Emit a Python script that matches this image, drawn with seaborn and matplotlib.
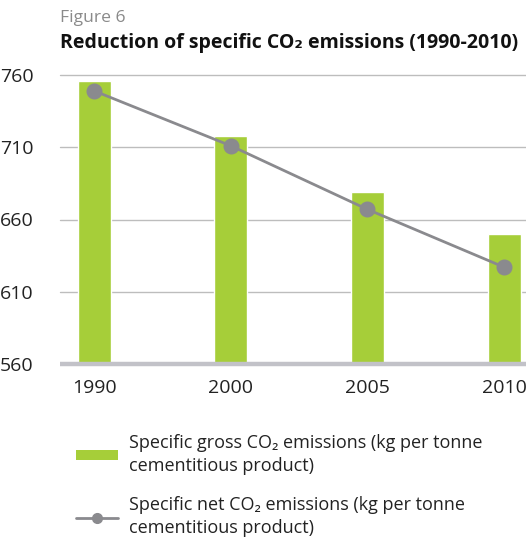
import matplotlib
matplotlib.use("Agg")
import matplotlib.pyplot as plt
import seaborn as sns
import pandas as pd
from matplotlib.patches import Patch
from matplotlib.lines import Line2D

# data
years = ["1990", "2000", "2005", "2010"]
gross_co2 = [756, 718, 679, 650]
net_co2 = [749, 711, 667, 627]
y_ticks = [560, 610, 660, 710, 760]

GREEN = "#a6ce39"
GREY = "#8a8a8e"

sns.set_theme(style="white")
plt.rcParams["font.family"] = ["Open Sans", "DejaVu Sans"]

df = pd.DataFrame({"year": years, "gross": gross_co2, "net": net_co2})

fig = plt.figure(figsize=(5.26, 5.4), dpi=100)
ax = fig.add_axes([60 / 526, 1 - 364 / 540, 466 / 526, 289 / 540])

for t in y_ticks[1:]:
    ax.axhline(t, color="#bdbdbd", lw=1.0, zorder=0, clip_on=False)

sns.barplot(data=df, x="year", y="gross", color=GREEN, width=0.24,
            saturation=1, ax=ax, zorder=2)
sns.pointplot(data=df, x="year", y="net", color=GREY, markers="o",
              markersize=10, linewidth=2, ax=ax, zorder=3)

ax.axhline(560, color="#c2c2c8", lw=3.2, zorder=4, clip_on=False,
           solid_capstyle="butt")

ax.set_ylim(560, 760)
ax.set_xlim(-0.25, 3.16)
ax.set_yticks(y_ticks)
ax.set_yticklabels([str(t) for t in y_ticks], fontsize=14, color="#222222")
ax.tick_params(axis="y", length=0, pad=19)
ax.tick_params(axis="x", length=0, pad=11, labelsize=14, labelcolor="#222222")
ax.set_xlabel("")
ax.set_ylabel("")
for s in ax.spines.values():
    s.set_visible(False)

fig.text(60 / 526, 1 - 18 / 540, "Figure 6", fontsize=12.6, color="#8a8a8a",
         va="center", ha="left")
fig.text(60 / 526, 1 - 43 / 540, "Reduction of specific CO₂ emissions (1990-2010)",
         fontsize=14, fontweight="bold", color="#111111", va="center", ha="left")

handles = [
    Patch(facecolor=GREEN, edgecolor="none"),
    Line2D([0], [0], color=GREY, lw=2, marker="o", markersize=7),
]
labels = [
    "Specific gross CO₂ emissions (kg per tonne\ncementitious product)",
    "Specific net CO₂ emissions (kg per tonne\ncementitious product)",
]
leg = fig.legend(handles, labels, loc="upper left",
                 bbox_to_anchor=(60 / 526, 1 - 418 / 540),
                 frameon=False, fontsize=13, handlelength=2.3, handleheight=0.5,
                 labelspacing=1.15, handletextpad=0.6, labelcolor="#222222")
for t in leg.get_texts():
    t.set_linespacing(1.35)

fig.savefig("out.png", dpi=100)
